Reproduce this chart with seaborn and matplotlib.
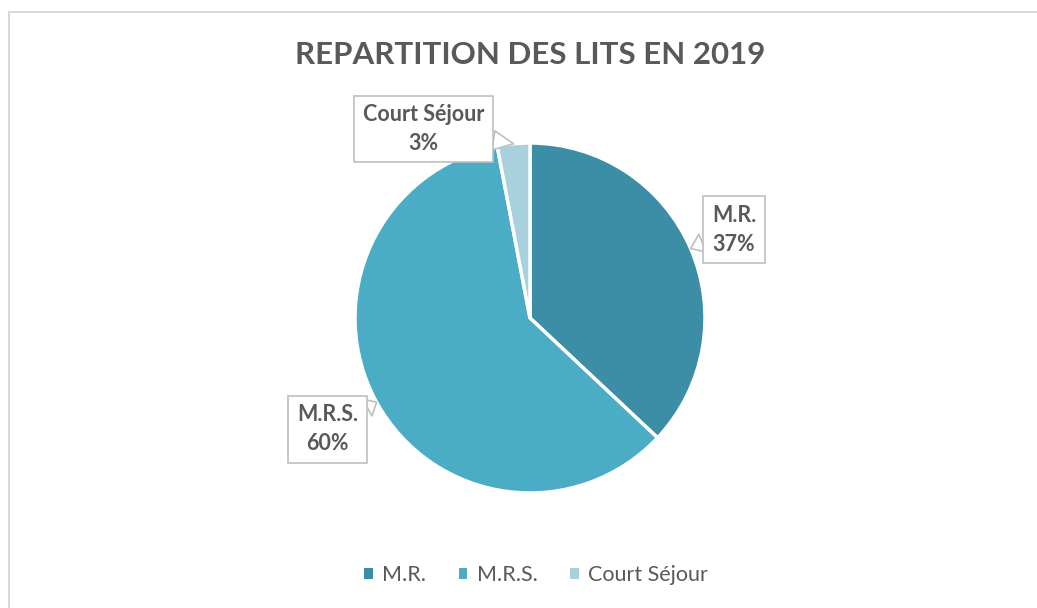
import numpy as np
import matplotlib
matplotlib.use("Agg")
import matplotlib.pyplot as plt
from matplotlib.patches import Rectangle
import seaborn as sns

# ---- data ----
categories = ["M.R.", "M.R.S.", "Court Séjour"]
shares = [37, 60, 3]
colors = ["#3C8DA6", "#4BACC6", "#A8D0DD"]
title = "REPARTITION DES LITS EN 2019"

# label layout: radius factor and angle shift (deg) of each callout box
label_radius = [1.27, 1.32, 1.24]
label_shift = [0, 0, -24]

sns.set_theme(style="white")
plt.rcParams['font.family'] = ['Lato', 'DejaVu Sans']
grey = "#595959"

W, H = 1037, 608
fig = plt.figure(figsize=(W / 100, H / 100), dpi=100)

# outer frame of the chart area
fig.patches.append(Rectangle((9 / W, -0.05), 1.2, 1 - 12 / H + 0.05,
                             transform=fig.transFigure, fill=False,
                             ec="#D9D9D9", lw=1.5, zorder=0))

cx, cy, r = 530, 318, 175
lim = 1.4
side = 2 * lim * r
ax = fig.add_axes([(cx - side / 2) / W, (H - cy - side / 2) / H, side / W, side / H])

wedges, _ = ax.pie(shares, colors=colors, startangle=90, counterclock=False,
                   wedgeprops=dict(edgecolor="white", linewidth=2.5))
ax.set_xlim(-lim, lim)
ax.set_ylim(-lim, lim)
ax.set_aspect("equal")
ax.axis("off")

# callout labels
total = sum(shares)
start = 0.0
for name, val, rad, shift in zip(categories, shares, label_radius, label_shift):
    mid = start + val / total * 360 / 2
    start += val / total * 360
    a = np.deg2rad(mid)
    tip = (1.0 * np.sin(a), 1.0 * np.cos(a))
    b = np.deg2rad(mid + shift)
    pos = (rad * np.sin(b), rad * np.cos(b))
    ax.annotate(f"{name}\n{round(val / total * 100)}%", xy=tip, xytext=pos,
                ha="center", va="center", fontsize=15.5, fontweight="bold",
                color=grey, linespacing=1.45, annotation_clip=False,
                bbox=dict(boxstyle="square,pad=0.4", fc="white", ec="#BFBFBF", lw=1.2),
                arrowprops=dict(arrowstyle="wedge,tail_width=0.9,shrink_factor=0.5",
                                fc="white", ec="#BFBFBF", lw=1.2,
                                shrinkA=0, shrinkB=0))

fig.text(cx / W, 1 - 55 / H, title, ha="center", va="center",
         fontsize=22.5, fontweight="bold", color=grey)

leg = fig.legend(wedges, categories, loc="center", bbox_to_anchor=(0.517, 1 - 575 / H),
                 ncol=3, frameon=False, fontsize=15.5, handlelength=0.4,
                 handleheight=0.4, columnspacing=1.5, handletextpad=0.45)
for t in leg.get_texts():
    t.set_color(grey)
for h in leg.legend_handles:
    h.set_edgecolor("none")

fig.savefig("out.png", dpi=100)
